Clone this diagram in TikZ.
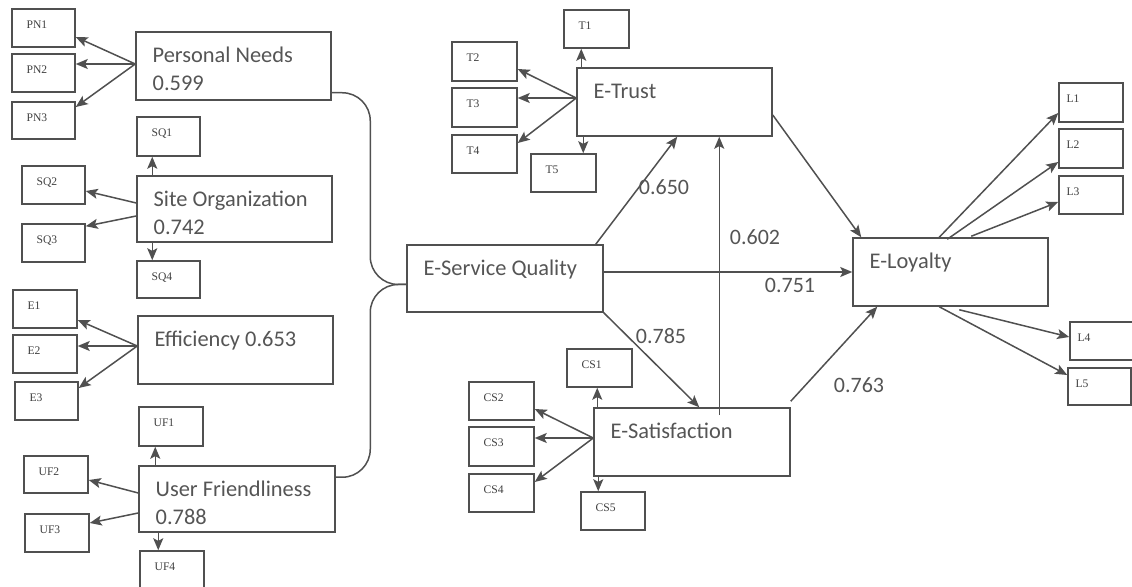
\documentclass[tikz,border=0pt]{standalone}
\usepackage{fontspec}
\setmainfont{Carlito}
\newfontfamily\serifsmall{Liberation Serif}
\usetikzlibrary{arrows.meta,calc,fit}
\definecolor{lc}{HTML}{505050}
\definecolor{tc}{HTML}{555555}
\newcommand\ind[6][7.5pt]{\node[box, fit={(#3,#4) (#5,#6)}, label={[ilbl,xshift=#1]north west:#2}] (#2) {};}
\tikzset{
  box/.style={draw=lc, line width=0.75pt, inner sep=0pt},
  ilbl/.style={anchor=base west, inner sep=0pt, yshift=-10pt, font=\serifsmall\fontsize{5.8}{6.5}\selectfont, text=black!75},
  blbl/.style={anchor=base west, inner sep=0pt, xshift=8.5pt, yshift=-15.5pt, font=\fontsize{11.2}{13}\selectfont, text=tc},
  blbltwo/.style={anchor=base west, inner sep=0pt, xshift=8.5pt, yshift=-29.5pt, font=\fontsize{11.2}{13}\selectfont, text=tc},
  conn/.style={draw=lc, line width=0.75pt},
  arr/.style={conn, -{Stealth[length=6pt,width=5pt,inset=1.3pt]}},
  num/.style={inner sep=0pt, font=\fontsize{11}{13}\selectfont, text=tc}
}
\begin{document}
\begin{tikzpicture}[x=0.5pt,y=-0.5pt]
\clip (0,0) rectangle (1132,587);
\fill[white] (0,0) rectangle (1132,587);

% latent boxes
\node[box, fit={(136,32) (331,100)}, label={[blbl]north west:Personal Needs}, label={[blbltwo]north west:0.599}] (PN) {};
\node[box, fit={(137,176) (332,242)}, label={[blbl]north west:Site Organization}, label={[blbltwo]north west:0.742}] (SO) {};
\node[box, fit={(138,316) (333,384)}, label={[blbl]north west:Efficiency 0.653}] (EF) {};
\node[box, fit={(139,466) (335,532)}, label={[blbl]north west:User Friendliness}, label={[blbltwo]north west:0.788}] (UF) {};
\node[box, fit={(407,245) (603,312)}, label={[blbl]north west:E-Service Quality}] (ESQ) {};
\node[box, fit={(577,68) (772,136)}, label={[blbl]north west:E-Trust}] (ET) {};
\node[box, fit={(594,408) (790,476)}, label={[blbl]north west:E-Satisfaction}] (ES) {};
\node[box, fit={(853,238) (1048,306)}, label={[blbl]north west:E-Loyalty}] (EL) {};

% indicator boxes
\ind{PN1}{12}{9}{75}{47}
\ind{PN2}{12}{54}{75}{92}
\ind{PN3}{12}{102}{75}{139}
\ind{SQ1}{137}{117}{200}{156}
\ind{SQ2}{22}{166}{85}{204}
\ind{SQ3}{22}{224}{85}{262}
\ind{SQ4}{137}{261}{200}{298}
\ind{E1}{13}{290}{77}{328}
\ind{E2}{13}{335}{77}{373}
\ind{E3}{15}{382}{78}{420}
\ind{UF1}{139}{407}{203}{446}
\ind{UF2}{24}{456}{88}{493}
\ind{UF3}{25}{514}{89}{552}
\ind{UF4}{140}{551}{204}{592}
\ind{T1}{564}{10}{629}{48}
\ind{T2}{452}{42}{517}{81}
\ind{T3}{452}{88}{517}{127}
\ind{T4}{452}{135}{517}{173}
\ind{T5}{531}{154}{596}{192}
\ind{CS1}{567}{349}{632}{387}
\ind{CS2}{469}{382}{534}{420}
\ind{CS3}{469}{427}{534}{466}
\ind{CS4}{469}{474}{534}{512}
\ind{CS5}{581}{492}{645}{530}
\ind[4pt]{L1}{1059}{83}{1123}{122}
\ind[4pt]{L2}{1059}{129}{1123}{168}
\ind[4pt]{L3}{1059}{176}{1123}{214}
\ind[4pt]{L4}{1070}{322}{1134}{360}
\ind[4pt]{L5}{1068}{368}{1131}{405}

% Personal Needs
\draw[arr] ($(PN.west)+(0,-2)$) -- ($(PN1.east)+(0,9)$);
\draw[arr] ($(PN.west)+(0,-2)$) -- ($(PN2.east)+(0,-9)$);
\draw[arr] ($(PN.west)+(0,-2)$) -- ($(PN3.east)+(0,-13.5)$);
% Site Organization
\draw[arr] ($(SO.north west)+(16,0)$) coordinate (so1) -- (so1 |- SQ1.south);
\draw[arr] ($(SO.south west)+(16,0)$) coordinate (so4) -- (so4 |- SQ4.north);
\draw[arr] ($(SO.west)+(0,-6)$) -- ($(SQ2.east)+(0,6)$);
\draw[arr] ($(SO.west)+(0,7)$) -- ($(SQ3.north east)+(0,3)$);
% Efficiency
\draw[arr] ($(EF.west)+(0,-4)$) -- ($(E1.east)+(0,11)$);
\draw[arr] ($(EF.west)+(0,-4)$) -- ($(E2.east)+(0,-8)$);
\draw[arr] ($(EF.west)+(0,-4)$) -- ($(E3.east)+(0,-13)$);
% User Friendliness
\draw[arr] ($(UF.north west)+(17,0)$) coordinate (uf1) -- (uf1 |- UF1.south);
\draw[arr] ($(UF.south west)+(20,0)$) coordinate (uf4) -- (uf4 |- UF4.north);
\draw[arr] ($(UF.west)+(0,-6)$) -- ($(UF2.east)+(0,5.5)$);
\draw[arr] ($(UF.west)+(0,14)$) -- ($(UF3.east)+(0,-10)$);
% E-Trust
\draw[arr] ($(ET.north west)+(5,0)$) coordinate (et1) -- (et1 |- T1.south);
\draw[arr] ($(ET.south west)+(7,0)$) coordinate (et5) -- (et5 |- T5.north);
\draw[arr] ($(ET.west)+(0,-4)$) -- ($(T2.east)+(0,7.5)$);
\draw[arr] ($(ET.west)+(0,-4)$) -- ($(T3.east)+(0,-9.5)$);
\draw[arr] ($(ET.west)+(0,-4)$) -- ($(T4.east)+(0,-11)$);
% E-Satisfaction
\draw[arr] ($(ES.north west)+(4,0)$) coordinate (es1) -- (es1 |- CS1.south);
\draw[arr] ($(ES.south west)+(5,0)$) coordinate (es5) -- (es5 |- CS5.north);
\draw[arr] ($(ES.west)+(0,-4)$) -- ($(CS2.east)+(0,8)$);
\draw[arr] ($(ES.west)+(0,-4)$) -- ($(CS3.east)+(0,-8.5)$);
\draw[arr] ($(ES.west)+(0,-4)$) -- ($(CS4.east)+(0,-11)$);
% E-Loyalty
\draw[arr] ($(EL.north west)+(87,0)$) -- ($(L1.west)+(0,10.5)$);
\draw[arr] ($(EL.north west)+(95,2)$) -- ($(L2.west)+(0,13.5)$);
\draw[arr] ($(EL.north west)+(119,-1)$) -- ($(L3.west)+(0,7)$);
\draw[arr] ($(EL.south west)+(107,3)$) -- ($(L4.west)+(0,-4)$);
\draw[arr] ($(EL.south west)+(87,0)$) -- ($(L5.west)+(0,-11.5)$);

% brace into E-Service Quality
\draw[conn, rounded corners=14pt] ($(PN.south east)+(0,-8)$) -| ($(ESQ.west)+(-36,6)$) -- ($(ESQ.west)+(0,6)$);
\draw[conn, rounded corners=14pt] ($(ESQ.west)+(0,6)$) -- ($(ESQ.west)+(-36,6)$) |- ($(UF.north east)+(0,12)$);

% structural paths
\draw[arr] ($(ESQ.north east)+(-8,0)$) -- ($(ET.south west)+(101,0)$);
\draw[arr] ($(ES.north west)+(126,8)$) coordinate (esT) -- (esT |- ET.south);
\draw[arr] (ESQ.south east) -- ($(ES.north west)+(106,0)$);
\draw[arr] ($(ET.east)+(0,13)$) -- ($(EL.north west)+(9,0)$);
\draw[arr] (EL.west -| ESQ.east) -- (EL.west);
\draw[arr] ($(ES.north east)+(0,-6)$) -- ($(EL.south west)+(25,0)$);

% path coefficients
\node[num] (w650) at (664,187) {0.650};
\node[num] (w602) at (755,237) {0.602};
\node[num] (w751) at (790,285) {0.751};
\node[num] (w785) at (661,336) {0.785};
\node[num] (w763) at (859,385) {0.763};
\end{tikzpicture}
\end{document}
